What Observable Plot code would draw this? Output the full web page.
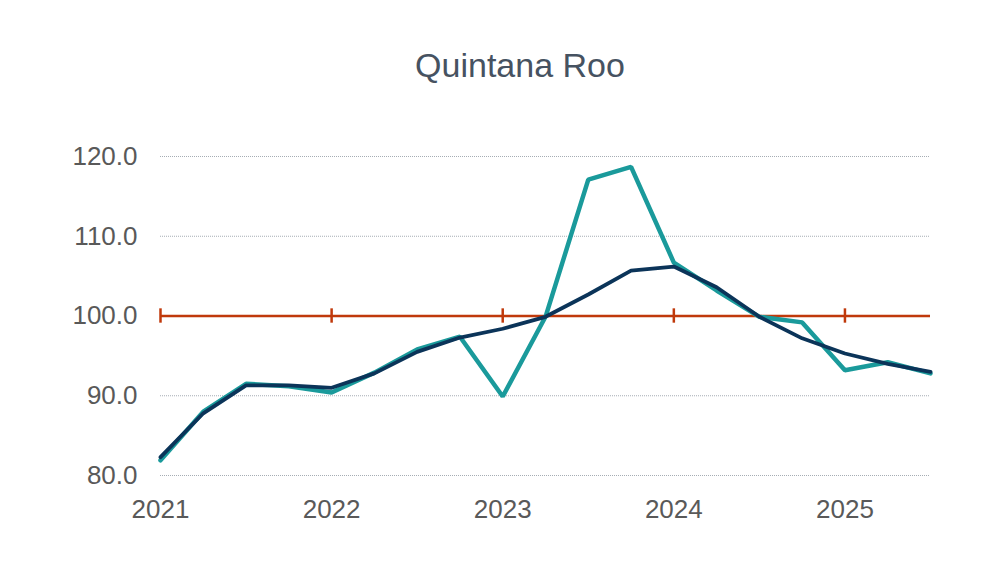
<!DOCTYPE html>
<html>
<head>
<meta charset="utf-8">
<script src="https://cdn.jsdelivr.net/npm/d3@7"></script>
<script src="https://cdn.jsdelivr.net/npm/@observablehq/plot@0.6"></script>
<style>
  html, body { margin: 0; padding: 0; background: #fff; }
  body { width: 1005px; height: 565px; overflow: hidden; font-family: "Liberation Sans", Arial, sans-serif; }
  #title { height: 100px; box-sizing: border-box; padding-top: 45px; padding-left: 35px; text-align: center; font-size: 34px; color: #465261; line-height: 40px; }
</style>
</head>
<body>
<div id="title">Quintana Roo</div>
<div id="chart"></div>
<script>
const quarters = [2021.00, 2021.25, 2021.50, 2021.75, 2022.00, 2022.25, 2022.50, 2022.75, 2023.00, 2023.25, 2023.50, 2023.75, 2024.00, 2024.25, 2024.50, 2024.75, 2025.00, 2025.25, 2025.50];
const seriesTeal = [81.9, 88.0, 91.5, 91.2, 90.4, 92.9, 95.8, 97.4, 89.9, 99.9, 117.1, 118.7, 106.7, 103.2, 99.9, 99.2, 93.2, 94.2, 92.8];
const seriesNavy = [82.3, 87.8, 91.3, 91.3, 91.0, 92.8, 95.5, 97.3, 98.4, 99.9, 102.7, 105.7, 106.2, 103.6, 99.9, 97.2, 95.3, 94.0, 93.0];
const yearTicks = [2021, 2022, 2023, 2024, 2025];
const yTicks = [80, 90, 100, 110, 120];
const baseline = 100;

const teal = quarters.map((q, i) => ({x: q, y: seriesTeal[i]}));
const navy = quarters.map((q, i) => ({x: q, y: seriesNavy[i]}));

const chart = Plot.plot({
  width: 1005,
  height: 435,
  marginLeft: 160,
  marginRight: 75,
  marginTop: 56,
  marginBottom: 60,
  style: { fontFamily: "Liberation Sans, Arial, sans-serif", fontSize: "26px", color: "#595959", background: "#fff" },
  x: { domain: [2021, 2025.5], ticks: yearTicks, tickFormat: d => String(d), tickSize: 0, tickPadding: 24, label: null },
  y: { domain: [80, 120], ticks: yTicks, tickFormat: d => d.toFixed(1), tickSize: 0, tickPadding: 23, label: null },
  marks: [
    Plot.ruleY(yTicks.filter(t => t !== baseline), { stroke: "#a6adb4", strokeWidth: 1, strokeDasharray: "1,1" }),
    Plot.ruleY([baseline], { stroke: "#c0390b", strokeWidth: 2.5 }),
    Plot.ruleX(yearTicks, { y1: baseline - 0.9, y2: baseline + 0.9, stroke: "#c0390b", strokeWidth: 2.5 }),
    Plot.line(teal, { x: "x", y: "y", stroke: "#1a9a9b", strokeWidth: 4.5, strokeLinejoin: "miter" }),
    Plot.line(navy, { x: "x", y: "y", stroke: "#0b3459", strokeWidth: 3.8, strokeLinejoin: "miter" })
  ]
});
document.getElementById("chart").appendChild(chart);
</script>
</body>
</html>
